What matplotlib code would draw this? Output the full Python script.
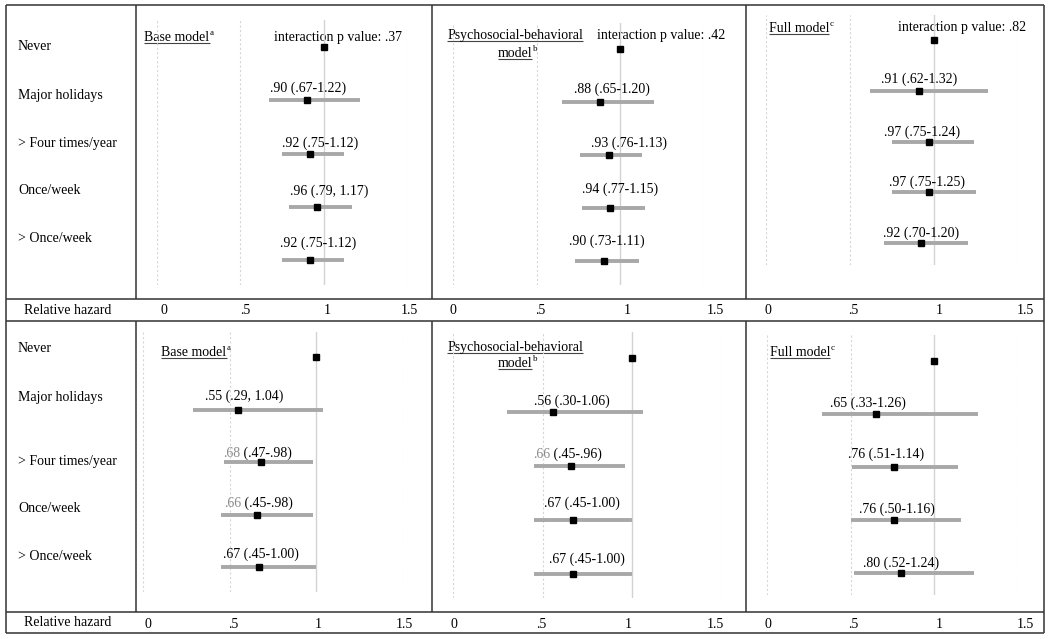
import matplotlib
matplotlib.use('Agg')
import matplotlib.pyplot as plt
from matplotlib.transforms import blended_transform_factory

W, H = 1050, 639

# ---- data ----
categories = ["Never", "Major holidays", "> Four times/year", "Once/week", "> Once/week"]
model_lines = [["Base model"], ["Psychosocial-behavioral", "model"], ["Full model"]]
model_sup = ["a", "b", "c"]
p_values = [".37", ".42", ".82"]
tick_vals = [0, 0.5, 1, 1.5]
tick_labels = ["0", ".5", "1", "1.5"]

# first row of panels (hazard ratio incl. reference "Never", CI for the other rows)
top_hr = [[1, .90, .92, .96, .92], [1, .88, .93, .94, .90], [1, .91, .97, .97, .92]]
top_lo = [[.67, .75, .79, .75], [.65, .76, .77, .73], [.62, .75, .75, .70]]
top_hi = [[1.22, 1.12, 1.17, 1.12], [1.20, 1.13, 1.15, 1.11], [1.32, 1.24, 1.25, 1.20]]
top_labels = [[".90 (.67-1.22)", ".92 (.75-1.12)", ".96 (.79, 1.17)", ".92 (.75-1.12)"],
              [".88 (.65-1.20)", ".93 (.76-1.13)", ".94 (.77-1.15)", ".90 (.73-1.11)"],
              [".91 (.62-1.32)", ".97 (.75-1.24)", ".97 (.75-1.25)", ".92 (.70-1.20)"]]

# second row of panels
bot_hr = [[1, .55, .68, .66, .67], [1, .56, .66, .67, .67], [1, .65, .76, .76, .80]]
bot_lo = [[.29, .47, .45, .45], [.30, .45, .45, .45], [.33, .51, .50, .52]]
bot_hi = [[1.04, .98, .98, 1.00], [1.06, .96, 1.00, 1.00], [1.26, 1.14, 1.16, 1.24]]
bot_labels = [[".55 (.29, 1.04)", ".68 (.47-.98)", ".66 (.45-.98)", ".67 (.45-1.00)"],
              [".56 (.30-1.06)", ".66 (.45-.96)", ".67 (.45-1.00)", ".67 (.45-1.00)"],
              [".65 (.33-1.26)", ".76 (.51-1.14)", ".76 (.50-1.16)", ".80 (.52-1.24)"]]
bot_gray = [[False, True, True, False], [False, True, False, False], [False] * 4]

# ---- layout (pixels) ----
top_layout = [
    dict(gx=(157, 407), gy=(20, 285), ry=(47, 53.25), dx=[1, 10, 12, 8], dy=[-12, -10, -15, -17]),
    dict(gx=(453, 704), gy=(23, 285), ry=(49, 53), dx=[12, 20, 10, 3], dy=[-13, -12, -19, -20]),
    dict(gx=(766, 1018), gy=(15, 265), ry=(40, 50.75), dx=[0, -7, -2, 1], dy=[-11, -9, -10, -10]),
]
bot_layout = [
    dict(gx=(143, 403), gy=(332, 592), ry=(357, 52.5), dx=[6, -3, 1, 2], dy=[-13, -9, -11, -13]),
    dict(gx=(453, 722), gy=(332, 598), ry=(358, 54), dx=[18, -4, 9, 14], dy=[-11, -12, -17, -15]),
    dict(gx=(767, 1018), gy=(335, 595), ry=(361, 53), dx=[-8, -8, 3, 0], dy=[-11, -13, -11, -10]),
]
top_headers = [(177, [41]), (515, [39, 57]), (799, [32])]
bot_headers = [(194, [356]), (515, [351, 367]), (800, [356])]
inter_pos = [(338, 37), (661, 35), (962, 27)]
top_label_y = [47, 95, 143, 191, 238]
bot_label_y = [349, 397, 461, 509, 557]
top_ticks = [(164, 409), (453, 715), (768, 1025)]
bot_ticks = [(148, 404), (454, 715), (768, 1025)]

plt.rcParams['font.family'] = ['Liberation Serif', 'DejaVu Serif']
plt.rcParams['font.size'] = 10

fig = plt.figure(figsize=(W / 100, H / 100), dpi=100)
bg = fig.add_axes([0, 0, 1, 1])
bg.set_xlim(0, W)
bg.set_ylim(H, 0)
bg.axis('off')

edge = '#333333'
for y in [5, 299, 321, 612, 633]:
    bg.hlines(y, 6, 1044, color=edge, lw=1.1)
bg.vlines([6, 1044], 5, 633, color=edge, lw=1.1)
for x in [136, 432, 746]:
    bg.vlines(x, 5, 299, color=edge, lw=1.1)
    bg.vlines(x, 321, 612, color=edge, lw=1.1)

for y, cat in zip(top_label_y, categories):
    bg.text(18, y, cat, ha='left', va='center')
for y, cat in zip(bot_label_y, categories):
    bg.text(18, y, cat, ha='left', va='center')
bg.text(68, 311, "Relative hazard", ha='center', va='center')
bg.text(68, 623, "Relative hazard", ha='center', va='center')

for (x, y), p in zip(inter_pos, p_values):
    bg.text(x, y, "interaction p value: " + p, ha='center', va='center')


def px_axes(x0, y0, x1, y1):
    return fig.add_axes([x0 / W, 1 - y1 / H, (x1 - x0) / W, (y1 - y0) / H])


split_later = []
underline_later = []


def draw_panel(lay, hr, lo, hi, labels, gray):
    gx0, gx1 = lay['gx']
    gy0, gy1 = lay['gy']
    r0, rs = lay['ry']
    ax = px_axes(gx0, gy0, gx1, gy1)
    ax.set_xlim(0, 1.5)
    ax.set_ylim((gy1 - r0) / rs, (gy0 - r0) / rs)
    ax.axis('off')
    for v in tick_vals:
        if v == 1:
            ax.axvline(v, color='#d2d2d2', lw=1.0, zorder=1)
        else:
            ax.axvline(v, color='#d6d6d6', lw=0.8, ls=(0, (2, 2)), zorder=1)
    rows = list(range(len(hr)))
    ax.hlines(rows[1:], lo, hi, color='#a8a8a8', lw=2.8, zorder=2)
    ax.plot(hr, rows, 's', color='black', ms=5, zorder=3)
    for i, lab in enumerate(labels):
        t = ax.annotate(lab, xy=(hr[i + 1], i + 1),
                        xytext=(lay['dx'][i] * 0.72, -lay['dy'][i] * 0.72),
                        textcoords='offset points', ha='center', va='center')
        if gray is not None and gray[i]:
            split_later.append((ax, t, lab))
    return ax


def draw_header(cx, ys, lines, sup):
    last = None
    for y, line in zip(ys, lines):
        last = bg.text(cx, y, line, ha='center', va='baseline')
        underline_later.append((last, y))
    bg.annotate(sup, xy=(1, 1), xycoords=last, xytext=(0.3, 1.5),
                textcoords='offset points', ha='left', va='top', fontsize=6.5)


for j in range(3):
    draw_panel(top_layout[j], top_hr[j], top_lo[j], top_hi[j], top_labels[j], None)
    draw_panel(bot_layout[j], bot_hr[j], bot_lo[j], bot_hi[j], bot_labels[j], bot_gray[j])
    draw_header(top_headers[j][0], top_headers[j][1], model_lines[j], model_sup[j])
    draw_header(bot_headers[j][0], bot_headers[j][1], model_lines[j], model_sup[j])

for ticks, y in [(top_ticks, 311), (bot_ticks, 624)]:
    for x0, x1 in ticks:
        tax = px_axes(x0, y - 5, x1, y + 5)
        tax.set_xlim(0, 1.5)
        tax.axis('off')
        tr = blended_transform_factory(tax.transData, tax.transAxes)
        for v, lab in zip(tick_vals, tick_labels):
            tax.text(v, 0.5, lab, transform=tr, ha='center', va='center')

fig.canvas.draw()
renderer = fig.canvas.get_renderer()

for t, y in underline_later:
    bb = t.get_window_extent(renderer)
    bg.hlines(y + 2, bb.x0, bb.x1, color='#444444', lw=0.8)

for ax, t, lab in split_later:
    bb = t.get_window_extent(renderer)
    t.set_visible(False)
    first = lab.split(' ')[0]
    rest = lab[len(first):]
    t1 = ax.annotate(first, xy=(bb.x0, bb.y0), xycoords='figure pixels',
                     ha='left', va='bottom', color='#8a8a8a')
    ax.annotate(rest, xy=(1, 0), xycoords=t1, ha='left', va='bottom')

fig.savefig('out.png', dpi=100)
